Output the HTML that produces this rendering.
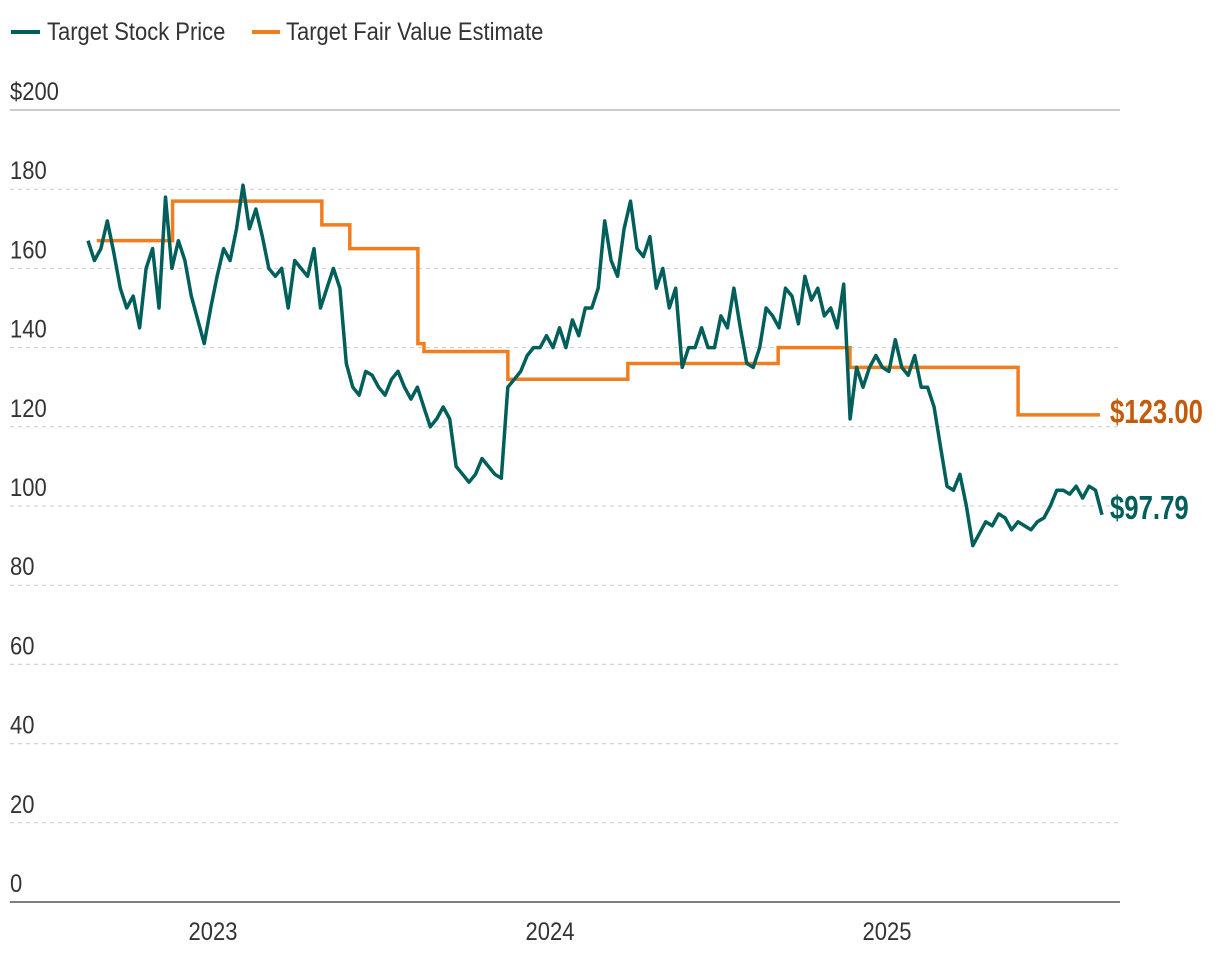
<!DOCTYPE html>
<html><head><meta charset="utf-8">
<style>
body{margin:0;background:#fff;}
svg{display:block;font-family:"Liberation Sans Narrow","Liberation Sans",sans-serif;}
</style></head>
<body>
<svg id="chart" width="1220" height="960" viewBox="0 0 1220 960" xmlns="http://www.w3.org/2000/svg">
<g>
<line x1="11" y1="32" x2="40" y2="32" stroke="#005f5a" stroke-width="4"/>
<text transform="translate(47,40) scale(0.88,1)" font-size="25" fill="#333">Target Stock Price</text>
<line x1="252" y1="32" x2="280" y2="32" stroke="#f07d1e" stroke-width="4"/>
<text transform="translate(286,40) scale(0.88,1)" font-size="25" fill="#333">Target Fair Value Estimate</text>
</g>
<g id="grid"></g><g id="xaxis"></g>
<g id="series"></g>
</svg>
<script>
const yTicks=[0,20,40,60,80,100,120,140,160,180,200];
const yTickLabels=["0","20","40","60","80","100","120","140","160","180","$200"];
const xTicks=[2023,2024,2025];
const priceStart=2022.629, priceEnd=2025.638;
const prices=[167,162,165,172,164,155,150,153,145,160,165,150,178,160,167,162,153,147,141,150,158,165,162,170,181,170,175,168,160,158,160,150,162,160,158,165,150,155,160,155,136,130,128,134,133,130,128,132,134,130,127,130,125,120,122,125,122,110,108,106,108,112,110,108,107,130,132,134,138,140,140,143,140,145,140,147,143,150,150,155,172,162,158,170,177,165,163,168,155,160,150,155,135,140,140,145,140,140,148,145,155,145,136,135,140,150,148,145,155,153,146,158,152,155,148,150,145,156,122,135,130,135,138,135,134,142,135,133,138,130,130,125,115,105,104,108,100,90,93,96,95,98,97,94,96,95,94,96,97,100,104,104,103,105,102,105,104,97.79];
const fvDates=[2022.655,2022.88,2023.323,2023.406,2023.608,2023.626,2023.875,2024.231,2024.677,2024.89,2025.389,2025.632];
const fvValues=[167,177,171,165,141,139,132,136,140,135,123,123];
const NS="http://www.w3.org/2000/svg";
const x=t=>213+(t-2023)*337;
const y=v=>902-v*3.96;
function mk(tag,attrs,parent){const e=document.createElementNS(NS,tag);for(const k in attrs)e.setAttribute(k,attrs[k]);parent.appendChild(e);return e;}
const grid=document.getElementById('grid');
yTicks.forEach((v,i)=>{
  const l=mk('line',{x1:10,x2:1120,y1:y(v),y2:y(v),stroke:v===0?'#555':(v===200?'#999':'#ccc'),'stroke-width':v===0?1.5:1,'stroke-dasharray':(v===0||v===200)?'none':'4 4'},grid);
  
  
  const t=mk('text',{transform:'translate(10,'+(y(v)-10)+') scale(0.88,1)','font-size':25,fill:'#333'},grid);
  t.textContent=yTickLabels[i];
  
  
});
const xa=document.getElementById('xaxis');
xTicks.forEach(yr=>{
  const t=mk('text',{transform:'translate('+x(yr)+',940) scale(0.88,1)','font-size':25,fill:'#333','text-anchor':'middle'},xa);
  t.textContent=yr;
  
  
});
const s=document.getElementById('series');
let d='';
fvDates.forEach((t,i)=>{
  if(i===0)d+='M'+x(t)+' '+y(fvValues[0]);
  else d+=' H'+x(t)+' V'+y(fvValues[i]);
});
const fv=mk('path',{d:d,fill:'none',stroke:'#f07d1e','stroke-width':3.5},s);


const step=(priceEnd-priceStart)/(prices.length-1);
const pd=prices.map((v,i)=>(i?'L':'M')+x(priceStart+i*step).toFixed(1)+' '+y(v).toFixed(1)).join(' ');
const pl=mk('path',{d:pd,fill:'none',stroke:'#005f5a','stroke-width':3.5,'stroke-linejoin':'round'},s);


const lf=mk('text',{transform:'translate(1110,'+(y(fvValues[fvValues.length-1])+8)+') scale(0.78,1)','font-size':33,'font-weight':'bold',fill:'#c55a0a'},s);
lf.textContent='$'+fvValues[fvValues.length-1].toFixed(2);


const lp=mk('text',{transform:'translate(1110,'+(y(prices[prices.length-1])+4)+') scale(0.78,1)','font-size':33,'font-weight':'bold',fill:'#005f5a'},s);
lp.textContent='$'+prices[prices.length-1].toFixed(2);


</script>
</body></html>
